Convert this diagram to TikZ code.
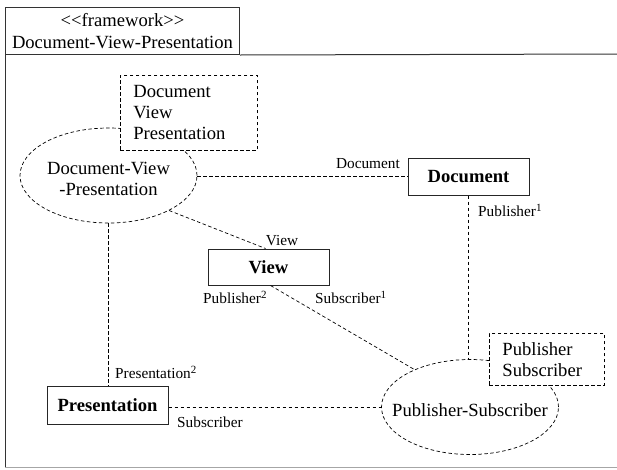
\documentclass[tikz,border=0pt]{standalone}
\usepackage{fontspec}
\setmainfont{Liberation Serif}
\usetikzlibrary{shapes.geometric}
% role index written as a raised, slightly smaller digit
\newcommand{\roleidx}[1]{\raisebox{0.62ex}{\fontsize{11}{11}\selectfont #1}}
\begin{document}
\begin{tikzpicture}[x=1pt,y=-1pt,
  mainfont/.style={font=\fontsize{18.6}{21.5}\selectfont},
  rolelabel/.style={font=\fontsize{15.3}{17}\selectfont, inner sep=0},
  classbox/.style={draw=black!85, line width=1pt, minimum width=121pt,
    minimum height=37pt, inner sep=0, font=\fontsize{18.6}{21.5}\selectfont\bfseries},
  notebox/.style={draw, dashed, dash pattern=on 3.5pt off 2.5pt, fill=white,
    line width=0.8pt, align=left, inner xsep=13pt, inner ysep=0,
    font=\fontsize{18.6}{21}\selectfont},
  collab/.style={draw, ellipse, dashed, dash pattern=on 3.5pt off 2.5pt,
    line width=0.7pt, minimum width=177pt, minimum height=95pt, inner sep=0},
  link/.style={draw, dashed, dash pattern=on 3.5pt off 2.5pt, line width=0.7pt},
  frameline/.style={draw=black!80, line width=1pt}]
\useasboundingbox (0,0) rectangle (617,469);

% package frame with its name tab
\node[draw=black!80, line width=1pt, minimum width=234pt, minimum height=47pt,
  inner sep=0, align=center, mainfont, anchor=north west] (tab) at (5,7)
  {<\kern0pt<framework>\kern0pt>\\Document-View-Presentation};
\draw[frameline] (tab.south east) -- (617,54);
\draw[frameline] (tab.south west) -- (5,467);
\draw[draw=black!35, line width=1pt] (5,467.5) -- (617,467.5);

% collaborations
\node[collab] (dvpE) at (108.5,175.5) {};
\node[mainfont, align=center, inner sep=0] (dvpName) at (108.5,179) {Document-View\\-Presentation};
\node[notebox, text width=111pt, minimum height=75pt, anchor=north west] (dvpNote)
  at (120,75) {Document\\View\\Presentation};

\node[collab] (psE) at (470,407) {};
\node[mainfont, inner sep=0] (psName) at (470,410) {Publisher-Subscriber};
\node[notebox, text width=89pt, minimum height=52pt, anchor=north west] (psNote)
  at (489,333) {Publisher\\Subscriber};

% classes
\node[classbox] (doc) at (468.5,176.5) {Document};
\node[classbox, minimum height=36pt] (view) at (268.5,267) {View};
\node[classbox, minimum height=38pt] (pres) at (107.5,405) {Presentation};

% role bindings
\draw[link] (dvpE.east |- doc.west) -- (doc.west);
\draw[link] (dvpE.-30) -- ([xshift=-3pt]view.north);
\draw[link] (dvpE.south) -- (dvpE.south |- pres.north);
\draw[link] (doc.south) -- (doc.south |- psE.north);
\draw[link] ([xshift=2pt]view.south) -- (psE.146);
\draw[link] ([yshift=-2pt]pres.east) -- ([yshift=-2pt]pres.east -| psE.west);

% role names
\node[rolelabel, anchor=base east] (lDoc) at (400,168) {Document};
\node[rolelabel, anchor=base] (lView) at (282,245) {View};
\node[rolelabel, anchor=base west] (lPub1) at (478,216) {Publisher\roleidx{1}};
\node[rolelabel, anchor=base west] (lPub2) at (203,303) {Publisher\roleidx{2}};
\node[rolelabel, anchor=base west] (lSub1) at (315,303) {Subscriber\roleidx{1}};
\node[rolelabel, anchor=base west] (lPres2) at (115,378) {Presentation\roleidx{2}};
\node[rolelabel, anchor=base west] (lSub) at (177,427) {Subscriber};
\end{tikzpicture}
\end{document}
